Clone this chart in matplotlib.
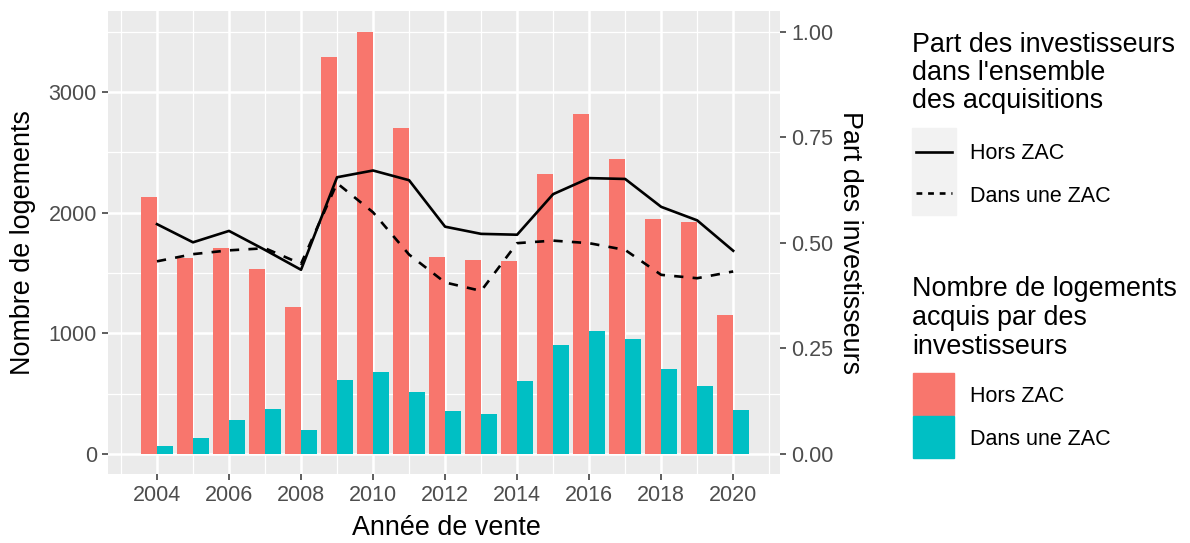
import numpy as np
import matplotlib
matplotlib.use("Agg")
import matplotlib.pyplot as plt
from matplotlib.ticker import MultipleLocator, FixedLocator
from matplotlib.patches import Rectangle
from matplotlib.lines import Line2D

plt.rcParams['font.family'] = ['Liberation Sans', 'DejaVu Sans']

# Data
years = [2004, 2005, 2006, 2007, 2008, 2009, 2010, 2011, 2012,
         2013, 2014, 2015, 2016, 2017, 2018, 2019, 2020]
nb_hors_zac = [2132, 1622, 1705, 1531, 1216, 3288, 3495, 2704, 1635,
               1610, 1599, 2318, 2815, 2447, 1945, 1920, 1152]
nb_dans_zac = [66, 133, 279, 376, 202, 616, 680, 514, 359,
               334, 602, 906, 1017, 951, 707, 564, 365]
part_hors_zac = [0.544, 0.501, 0.528, 0.483, 0.436, 0.655, 0.671, 0.648, 0.538,
                 0.521, 0.519, 0.615, 0.653, 0.651, 0.585, 0.553, 0.481]
part_dans_zac = [0.456, 0.473, 0.482, 0.487, 0.450, 0.641, 0.572, 0.472, 0.406,
                 0.386, 0.499, 0.505, 0.499, 0.483, 0.424, 0.416, 0.432]
SCALE = 3500  # secondary axis factor

SALMON = '#F8766D'
TEAL = '#00BFC4'
W, H = 1190, 543


def fx(x):
    return x / W


def fy(y):
    return 1 - y / H


fig = plt.figure(figsize=(W / 100, H / 100), dpi=100)
ax = fig.add_axes([fx(108), fy(474), (780 - 108) / W, (474 - 11) / H])
ax.set_facecolor('#EBEBEB')
for s in ax.spines.values():
    s.set_visible(False)

yrs = np.array(years)
ax.bar(yrs - 0.225, nb_hors_zac, width=0.45, color=SALMON, zorder=2)
ax.bar(yrs + 0.225, nb_dans_zac, width=0.45, color=TEAL, zorder=2)

ax.set_xlim(2002.64, 2021.3)
ax.set_ylim(-166, 3670)
ax.xaxis.set_major_locator(MultipleLocator(2))
ax.xaxis.set_minor_locator(MultipleLocator(1))
ax.yaxis.set_major_locator(MultipleLocator(1000))
ax.yaxis.set_minor_locator(MultipleLocator(500))
ax.set_axisbelow(True)
ax.grid(which='major', color='white', lw=1.8)
ax.grid(which='minor', color='white', lw=0.9)
ax.tick_params(which='major', length=4.5, width=1.1, color='#333333',
               labelcolor='#4D4D4D', labelsize=15.5, pad=3.5)
ax.tick_params(which='minor', length=0)

ax2 = ax.twinx()
for s in ax2.spines.values():
    s.set_visible(False)
ax2.set_ylim(-166 / SCALE, 3670 / SCALE)
ax2.yaxis.set_major_locator(FixedLocator([0, 0.25, 0.5, 0.75, 1.0]))
ax2.set_yticklabels(['0.00', '0.25', '0.50', '0.75', '1.00'])
ax2.tick_params(length=4.5, width=1.1, color='#333333',
                labelcolor='#4D4D4D', labelsize=15.5, pad=3.5)
ax2.plot(years, part_hors_zac, color='black', lw=1.9)
ax2.plot(years, part_dans_zac, color='black', lw=1.9, linestyle=(0, (3.5, 3.5)))

# axis titles
fig.text(fx(23), fy(242.5), 'Nombre de logements', rotation=90,
         ha='center', va='center', fontsize=19.4)
fig.text(fx(850), fy(242.5), 'Part des investisseurs', rotation=270,
         ha='center', va='center', fontsize=19.4)
fig.text(fx(446), fy(535), 'Année de vente', ha='center', va='baseline',
         fontsize=19.4)

# legend 1 : lines
for txt, b in zip(["Part des investisseurs", "dans l'ensemble", "des acquisitions"],
                  [51.5, 80, 108.5]):
    fig.text(fx(912), fy(b), txt, ha='left', va='baseline', fontsize=19.4)
fig.patches.append(Rectangle((fx(912), fy(215)), 44 / W, 87 / H,
                             transform=fig.transFigure, color='#F2F2F2'))
fig.lines.append(Line2D([fx(916), fx(952)], [fy(151.7), fy(151.7)],
                        transform=fig.transFigure, color='black', lw=1.9))
fig.lines.append(Line2D([fx(916), fx(952)], [fy(193.3), fy(193.3)],
                        transform=fig.transFigure, color='black', lw=1.9,
                        linestyle=(0, (2.2, 2.2))))
fig.text(fx(970), fy(159.3), 'Hors ZAC', va='baseline', fontsize=15.5)
fig.text(fx(970), fy(201.5), 'Dans une ZAC', va='baseline', fontsize=15.5)

# legend 2 : bars
for txt, b in zip(["Nombre de logements", "acquis par des", "investisseurs"],
                  [296.5, 325, 353.5]):
    fig.text(fx(912), fy(b), txt, ha='left', va='baseline', fontsize=19.4)
fig.patches.append(Rectangle((fx(913), fy(414.5)), 41 / W, 41.5 / H,
                             transform=fig.transFigure, color=SALMON))
fig.patches.append(Rectangle((fx(913), fy(458)), 41 / W, 42 / H,
                             transform=fig.transFigure, color=TEAL))
fig.text(fx(970), fy(401.7), 'Hors ZAC', va='baseline', fontsize=15.5)
fig.text(fx(970), fy(445), 'Dans une ZAC', va='baseline', fontsize=15.5)

fig.savefig('out.png', dpi=100)
